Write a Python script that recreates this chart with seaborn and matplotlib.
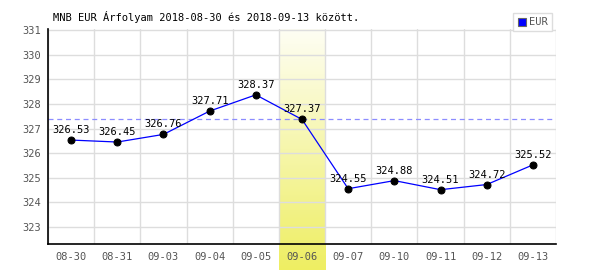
import numpy as np
import pandas as pd
import matplotlib
matplotlib.use("Agg")
import matplotlib.pyplot as plt
from matplotlib.patches import Patch
from matplotlib.colors import LinearSegmentedColormap
import seaborn as sns

dates = ["08-30", "08-31", "09-03", "09-04", "09-05", "09-06",
         "09-07", "09-10", "09-11", "09-12", "09-13"]
rates = [326.53, 326.45, 326.76, 327.71, 328.37, 327.37,
         324.55, 324.88, 324.51, 324.72, 325.52]
highlight = "09-06"
ref_value = 327.37
yticks = [323, 324, 325, 326, 327, 328, 329, 330, 331]
title = "MNB EUR Árfolyam 2018-08-30 és 2018-09-13 között."
series_name = "EUR"

sns.set_theme(style="white")
plt.rcParams['font.family'] = ['DejaVu Sans Mono', 'DejaVu Sans']

df = pd.DataFrame({"date": dates, "rate": rates})

fig = plt.figure(figsize=(6, 2.7), dpi=100)
ax = fig.add_axes([48/600, 26/270, 508/600, 215/270])

ylo, yhi = 322.3, 331.05

# highlighted column with vertical gradient (pale at top, stronger at bottom)
hi = dates.index(highlight)
grad = np.linspace(0, 1, 256).reshape(-1, 1)
cmap = LinearSegmentedColormap.from_list("yel", ["#fefef4", "#eeee62"])
ybottom = ylo - 26 / (215 / (yhi - ylo))
ax.imshow(grad, extent=[hi - 0.5, hi + 0.5, ybottom, yhi], cmap=cmap,
          aspect='auto', origin='upper', zorder=0, clip_on=False)
ax.set_xlim(-0.5, len(dates) - 0.5)
ax.set_ylim(ylo, yhi)

# grid
ax.set_yticks(yticks)
ax.set_xticks(np.arange(len(dates)))
ax.set_xticks(np.arange(len(dates) + 1) - 0.5, minor=True)
ax.grid(which='minor', axis='x', color='#dddddd', lw=1, zorder=1)
ax.grid(which='major', axis='y', color='#dddddd', lw=1, zorder=1)
ax.grid(which='major', axis='x', visible=False)
ax.set_axisbelow(True)

ax.axhline(ref_value, color='#8c8cff', lw=0.9, ls=(0, (4, 3)), zorder=2)

sns.lineplot(data=df, x="date", y="rate", ax=ax, color='#0000ff', lw=0.9,
             marker='o', markersize=5, markerfacecolor='black',
             markeredgecolor='black', zorder=3, sort=False)

for i, v in enumerate(rates):
    ax.annotate(f"{v:.2f}", (i, v), textcoords='offset pixels', xytext=(0, 5),
                ha='center', va='bottom', fontsize=7.5, color='black', zorder=4)

ax.set_xticklabels(dates)
ax.tick_params(axis='both', length=0, labelsize=7.5, labelcolor='#555555')
ax.tick_params(axis='x', pad=6)
ax.tick_params(axis='y', pad=5)
ax.set_xlabel("")
ax.set_ylabel("")

for s in ['top', 'right']:
    ax.spines[s].set_visible(False)
for s in ['left', 'bottom']:
    ax.spines[s].set_color('black')
    ax.spines[s].set_linewidth(1.2)

fig.text(53/600, 1 - 17/270, title, fontsize=7.5, color='black', va='center', ha='left')

handle = Patch(facecolor='#0000ff', edgecolor='#666666', lw=0.8)
leg = fig.legend([handle], [series_name], loc='upper right',
                 bbox_to_anchor=(552/600, 1 - 13/270), fontsize=7.5,
                 frameon=True, fancybox=False, edgecolor='#dddddd', framealpha=1,
                 handlelength=0.8, handleheight=0.8, handletextpad=0.3,
                 borderpad=0.4, borderaxespad=0)
for t in leg.get_texts():
    t.set_color('#555555')
leg.get_frame().set_linewidth(1)

fig.savefig("out.png", dpi=100)
